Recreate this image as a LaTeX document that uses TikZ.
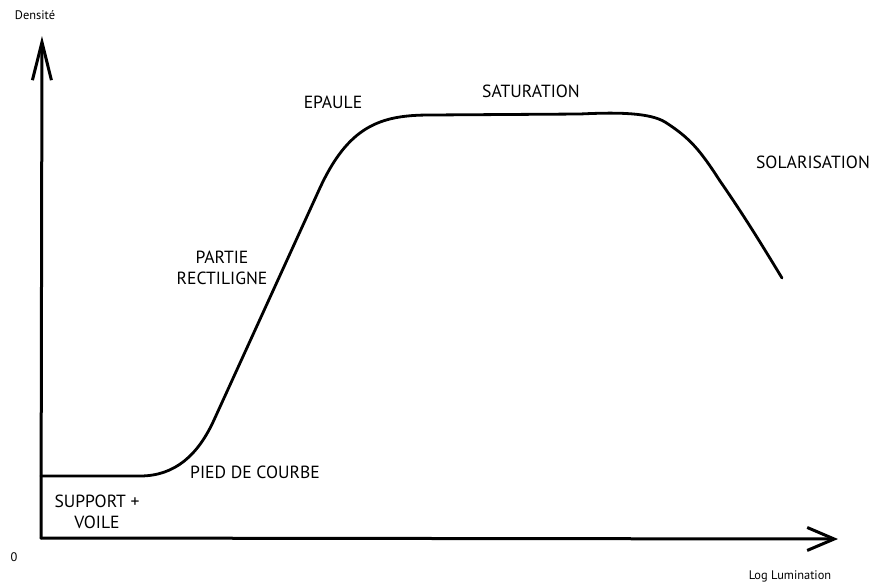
\documentclass[tikz,border=0pt]{standalone}
\usepackage{fontspec}
\setmainfont{PT Sans}
\usetikzlibrary{arrows.meta}
\tikzstyle{phaseLabel}=[inner sep = 0pt, align = center, font = \fontsize{8.8}{10.5}\selectfont]
\tikzstyle{axisLabel}=[inner sep = 0pt, font = \fontsize{6.2}{7}\selectfont]
\tikzstyle{axisLine}=[line width = 1.5pt, line cap = round]

\begin{document}
\begin{tikzpicture}[x = 0.5pt, y = -0.5pt]
\useasboundingbox (0,0) rectangle (874,585);
\coordinate (origin) at (41,538);
\coordinate (ytip) at (42,36);
\coordinate (xtip) at (838,539);
\draw[axisLine, -{Straight Barb[length=19pt, width=9.5pt, line width=1.5pt]}] (origin) -- (ytip);
\draw[axisLine, -{Straight Barb[length=13.5pt, width=11.5pt, line width=1.5pt]}] (origin) -- (xtip);
\node[axisLabel] (densite) at (35,15) {Densité};
\node[axisLabel] (lumination) at (790,576) {Log Lumination};
\node[axisLabel] (zero) at (14,557) {0};
% courbe caracteristique
\draw[line width = 1.4pt, line cap = round] (41,476) -- (140,476)
  .. controls (175,476) and (198,455) .. (214,420)
  -- (319,190)
  .. controls (348,126) and (380,115) .. (430,115)
  -- (580,114)
  .. controls (620,112) and (650,113) .. (665,122)
  .. controls (690,138) and (700,150) .. (720,181)
  .. controls (745,217) and (765,250) .. (782,278);
\node[phaseLabel] (support) at (97,512) {SUPPORT +\\VOILE};
\node[phaseLabel] (pied) at (255,472) {PIED DE COURBE};
\node[phaseLabel] (partie) at (222,268) {PARTIE\\RECTILIGNE};
\node[phaseLabel] (epaule) at (333,102) {EPAULE};
\node[phaseLabel] (saturation) at (531,91) {SATURATION};
\node[phaseLabel] (solarisation) at (813,162) {SOLARISATION};
\end{tikzpicture}
\end{document}
